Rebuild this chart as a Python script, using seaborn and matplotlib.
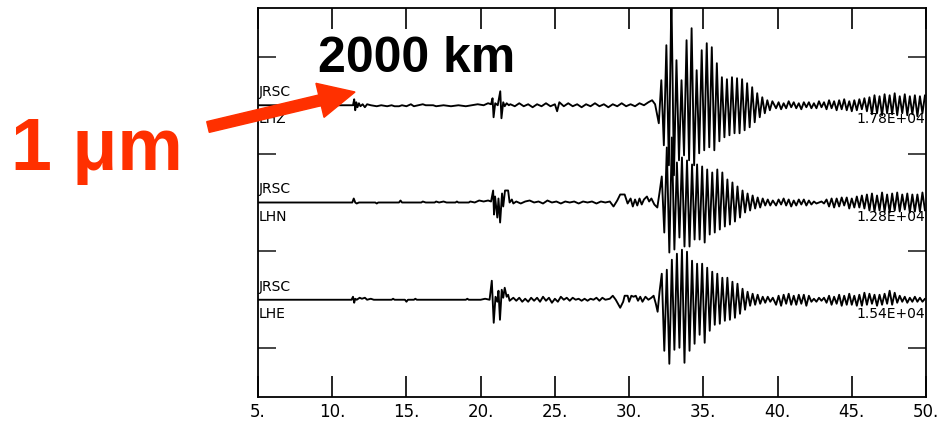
import numpy as np
import pandas as pd
import matplotlib
matplotlib.use("Agg")
import matplotlib.pyplot as plt
import seaborn as sns
from matplotlib.patches import FancyArrow
from matplotlib.transforms import IdentityTransform

# ------------------------------------------------------------------ data
station = "JRSC"
channels = ["LHZ", "LHN", "LHE"]
peak_labels = ["1.78E+04", "1.28E+04", "1.54E+04"]
x_ticks = [5, 10, 15, 20, 25, 30, 35, 40, 45, 50]
x_tick_labels = ["5.", "10.", "15.", "20.", "25.", "30.", "35.", "40.", "45.", "50."]
distance_label = "2000 km"
scale_label = "1 \u03bcm"

# turning points (time [s], amplitude [counts]) before the surface waves
lhz_pre = [(5.0, 0), (11.40, 0), (11.48, 6), (11.55, -5), (11.62, 3), (11.70, -2), (11.80, 2),
           (11.90, -1), (12.05, 1), (12.20, -2), (12.35, 1), (12.6, 0), (13.0, -1), (13.3, 0),
           (13.7, -1), (14.0, 0), (14.2, -1), (14.5, -1), (14.7, 0), (15.0, -1), (15.3, 1),
           (15.5, -1), (15.8, 0), (16.1, 1), (16.3, 0), (16.8, 0), (17.0, -1), (17.5, 0),
           (18.0, -1), (18.5, 0), (19.0, -1), (19.4, 0), (19.8, 1), (20.2, 0), (20.5, 2),
           (20.7, 1), (20.80, 7), (20.87, -12), (20.98, 2), (21.15, 0), (21.32, 14), (21.40, -13),
           (21.52, 3), (21.62, -1), (21.75, 2), (21.9, 0)]
lhz_noise = [(22.0, 1), (22.3, -1), (22.6, 2), (22.9, -1), (23.2, 1), (23.5, -2), (23.8, 1),
             (24.1, -1), (24.4, 2), (24.7, -1), (25.0, 1), (25.15, -6), (25.3, 3), (25.6, -1),
             (25.9, 2), (26.2, -1), (26.5, 1), (26.8, -2), (27.1, 1), (27.4, -1), (27.7, 2),
             (28.0, -1), (28.3, 1), (28.6, -2), (28.9, 1), (29.2, -1), (29.5, 2), (29.8, -1),
             (30.1, 1), (30.4, -1), (30.7, 2), (31.0, 0), (31.3, 3), (31.55, 5), (31.75, 1)]

lhn_pre = [(5.0, 0), (11.35, 0), (11.45, 4), (11.55, 0), (11.65, -1), (11.8, 0), (12.9, 0),
           (13.0, -1), (13.1, 0), (14.5, 0), (14.6, 2), (14.7, 0), (16.0, 0), (16.1, 1), (16.3, 0),
           (16.9, 0), (17.0, 1), (17.2, 0), (17.5, 1), (17.7, 0), (18.3, 0), (18.4, 1), (18.5, 0),
           (19.2, 0), (19.3, 1), (19.6, 0), (19.9, 2), (20.2, 1), (20.5, 2), (20.7, 1),
           (20.84, 12), (20.90, -12), (20.97, 6), (21.12, -15), (21.20, 4), (21.31, -20),
           (21.44, 9), (21.52, -4), (21.64, 12), (21.85, 12), (21.95, 0), (22.1, 3), (22.2, -1)]
lhn_noise = [(22.4, 1), (22.7, -1), (23.0, 1), (23.3, 2), (23.6, 0), (23.9, 1), (24.2, -1),
             (24.5, 2), (24.8, 0), (25.1, 1), (25.4, -1), (25.7, 1), (26.0, 0), (26.3, 1),
             (26.6, -1), (26.9, 1), (27.2, 0), (27.5, 1), (27.8, -1), (28.1, 1), (28.4, 0),
             (28.7, 1), (28.95, -4), (29.2, 2), (29.4, 8), (29.7, 8), (29.9, -1), (30.1, 4),
             (30.25, -4), (30.4, 3), (30.55, -3), (30.7, 4), (30.85, -2), (31.0, 3), (31.2, 6),
             (31.35, 1), (31.5, 4), (31.7, -2), (31.9, -5), (32.05, 10)]

lhe_pre = [(5.0, 0), (11.30, 0), (11.40, 3), (11.48, -3), (11.55, 1), (11.65, 0), (11.85, 2),
           (12.0, 1), (12.2, 2), (12.35, 0), (12.6, 1), (12.8, 0), (14.0, 0), (14.1, 1), (14.2, 0),
           (14.9, 0), (15.0, -2), (15.1, 0), (15.5, 0), (15.6, 1), (15.7, 0), (19.0, 0), (19.1, 1),
           (19.2, 0), (20.0, 0), (20.3, 1), (20.6, 0), (20.75, 19), (20.88, -23), (21.0, 3),
           (21.12, -2), (21.2, 9), (21.3, -20), (21.42, 10), (21.52, 2), (21.62, 12), (21.75, 3),
           (21.85, 5), (21.95, -1)]
lhe_noise = [(22.2, 2), (22.4, -1), (22.6, 2), (22.8, -2), (23.0, 1), (23.2, -2), (23.4, 2),
             (23.6, -1), (23.8, 2), (24.0, -2), (24.2, 3), (24.4, -1), (24.6, 2), (24.8, -3),
             (25.0, 1), (25.2, -2), (25.4, 3), (25.6, 0), (25.8, 2), (26.0, -1), (26.2, 2),
             (26.4, 0), (26.6, 1), (26.8, -1), (27.0, 1), (27.2, -1), (27.4, 1), (27.6, 0),
             (27.8, 2), (28.0, -1), (28.2, 2), (28.4, 0), (28.7, 1), (28.9, 4), (29.1, 0),
             (29.4, -8), (29.6, -2), (29.7, 4), (29.9, 4), (30.0, -2), (30.15, 4), (30.3, 3),
             (30.45, 4), (30.6, -1), (30.75, 3), (30.9, -2), (31.1, 3), (31.3, 0), (31.5, 2),
             (31.65, 4), (31.8, -4), (31.92, -12), (32.05, 8)]

# surface-wave samples (counts), every 0.17 s from the given start time
sample_step = 0.17
burst_start = {"LHZ": 32.0, "LHN": 32.2, "LHE": 32.2}
lhz_burst = [-18, 25, -40, 60, -60, 110, -70, 45, -55, 25, -50, 65, -55, 77, -60, 35,
             -48, 55, -45, 62, -42, 58, -45, 42, -36, 28, -32, 26, -30, 28, -28, 27,
             -28, 26, -25, 22, -22, 18, -17, 12, -12, 8, -8, 5, -5, 4]
lhn_burst = [26, -30, 55, -50, 65, -47, 40, -35, 45, -44, 42, -44, 38, -37, 38, -37,
             36, -40, 33, -32, 30, -30, 33, -27, 30, -24, 23, -22, 20, -19, 16, -15,
             12, -10, 9, -8, 7, -6, 5, -5, 4, -3, 3, -3, 2]
lhe_burst = [26, -51, 30, -64, 40, -50, 46, -48, 50, -63, 48, -51, 39, -44, 36, -35,
             36, -43, 32, -31, 28, -25, 26, -24, 22, -21, 22, -20, 18, -18, 16, -14,
             11, -10, 8, -6, 6, -5, 5, -4, 3, -3, 3, -2, 2]

# coda samples (counts), every 0.17 s from 39.9 s
coda_start = 39.9
lhz_coda = [-3, 3, -4, 2, -3, 4, -2, 3, -3, 2, -4, 3, -2, 3, -3, 2, -3, 4, -2, 3,
            -4, 5, -3, 4, -5, 5, -4, 6, -5, 4, -6, 5, -5, 6, -4, 7, -6, 8, -9, 10,
            -8, 9, -10, 11, -8, 10, -9, 12, -10, 9, -8, 11, -10, 9, -9, 10, -11, 9, -8, 10]
lhn_coda = [-3, 3, -2, 4, -3, 3, -4, 2, -3, 3, -2, 3, -3, 2, -2, 1, -1, 0, 1, -1,
            3, -4, 4, -5, 4, -4, 5, -3, 5, -6, 4, -5, 6, -5, 7, -6, 8, -8, 9, -9,
            7, -8, 10, -9, 8, -10, 9, -8, 10, -9, 8, -7, 9, -10, 8, -9, 8, -9, 10, -8]
lhe_coda = [-5, 4, -6, 5, -4, 6, -5, 4, -5, 5, -4, 5, -6, 4, -2, 1, -2, 2, -1, 2,
            -3, 4, -5, 3, -4, 5, -6, 4, -5, 6, -5, 4, -6, 5, -6, 7, -5, 6, -4, 5,
            -6, 5, -5, 6, -4, 9, -5, 7, -3, 4, -2, 3, -3, 2, -2, 3, -2, 2, -2, 1]

# ------------------------------------------------------------------ build table
gain = 1 / 48.6          # y-units per count
offsets = [6, 4, 2]       # trace baselines in y-units
traces = {
    "LHZ": (lhz_pre + lhz_noise, lhz_burst, lhz_coda),
    "LHN": (lhn_pre + lhn_noise, lhn_burst, lhn_coda),
    "LHE": (lhe_pre + lhe_noise, lhe_burst, lhe_coda),
}
rows = []
for ch, off in zip(channels, offsets):
    pts, burst, coda = traces[ch]
    for t, a in pts:
        rows.append((ch, t, off + a * gain))
    for i, a in enumerate(burst):
        rows.append((ch, burst_start[ch] + i * sample_step, off + a * gain))
    for i, a in enumerate(coda):
        rows.append((ch, coda_start + i * sample_step, off + a * gain))
df = pd.DataFrame(rows, columns=["channel", "time", "y"])

# ------------------------------------------------------------------ plot
sns.set_theme(style="white")
plt.rcParams["font.family"] = ["DejaVu Sans"]

fig = plt.figure(figsize=(9.4, 4.22), dpi=100)
ax = fig.add_axes([258 / 940, 25 / 422, 668 / 940, 389 / 422])

for ch in channels:
    sub = df[df["channel"] == ch]
    sns.lineplot(data=sub, x="time", y="y", ax=ax, color="black", lw=1.35,
                 estimator=None, sort=False, legend=False)

ax.set_xlim(5, 50)
ax.set_ylim(0, 8)
ax.set_xlabel("")
ax.set_ylabel("")
ax.set_xticks(x_ticks)
ax.set_xticklabels(x_tick_labels, fontsize=12)
ax.set_yticks([1, 3, 5, 7])
ax.set_yticklabels([])
ax.tick_params(axis="x", direction="in", length=15, width=1.2, top=True, bottom=True,
               pad=4, colors="black")
ax.tick_params(axis="y", direction="in", length=13, width=1.2, left=True, right=True)
for sp in ax.spines.values():
    sp.set_visible(True)
    sp.set_color("black")
    sp.set_linewidth(1.3)

for ch, off, pk in zip(channels, offsets, peak_labels):
    ax.text(5.02, off + 0.27, station, fontsize=10, ha="left", va="center", color="black")
    ax.text(5.02, off - 0.29, ch, fontsize=10, ha="left", va="center", color="black")
    ax.text(49.97, off - 0.29, pk, fontsize=10, ha="right", va="center", color="black")

# annotations
fig.text(318 / 940, 1 - 72 / 422, distance_label, fontsize=36, fontweight="bold",
         family="Liberation Sans", color="black", ha="left", va="baseline")
fig.text(11 / 940, 1 - 170 / 422, scale_label, fontsize=53, fontweight="bold",
         family="Liberation Sans", color="#ff3000", ha="left", va="baseline")
arrow = FancyArrow(208, 422 - 127, 147, 35, width=11, head_width=35, head_length=36,
                   length_includes_head=True, color="#ff3000", transform=IdentityTransform())
fig.add_artist(arrow)

fig.savefig("out.png", dpi=100)
